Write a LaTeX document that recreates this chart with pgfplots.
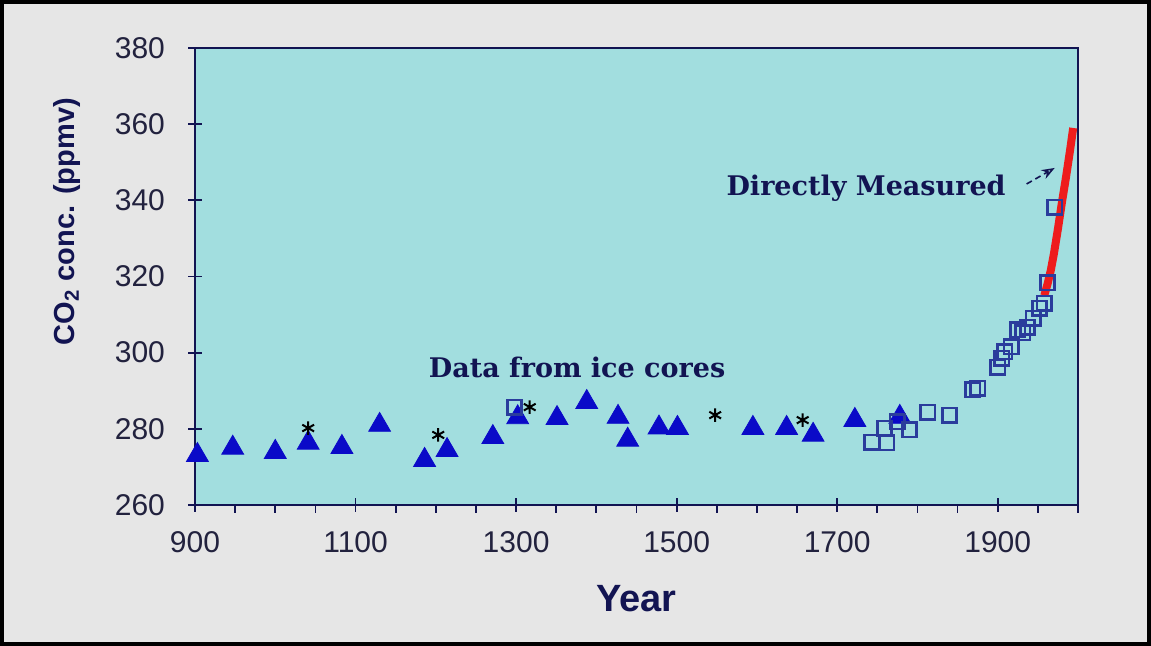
\documentclass[border=0pt]{standalone}
\usepackage{pgfplots}
\pgfplotsset{compat=1.18}
\usetikzlibrary{arrows.meta}
\usepackage{fontspec}
\setmainfont{Liberation Sans}
\newfontfamily\annfont{DejaVu Serif}
\definecolor{bgray}{HTML}{E6E6E6}
\definecolor{plotbg}{HTML}{A2DEDF}
\definecolor{navy}{HTML}{121452}
\definecolor{tickcol}{HTML}{22223E}
\definecolor{tri}{HTML}{0A0AC8}
\definecolor{sq}{HTML}{2A3C9C}
\definecolor{meas}{HTML}{EE1C1C}

\begin{document}
\begin{tikzpicture}[x=1pt,y=1pt]
\fill[bgray] (0,0) rectangle (575.5,323);
\draw[black,line width=2pt] (1,1) rectangle (574.5,322);
\useasboundingbox (0,0) rectangle (575.5,323);
\begin{axis}[
	at={(97.5pt,70.5pt)}, anchor=south west,
	scale only axis,
	width=441.5pt, height=228.5pt,
	xmin=900, xmax=2000, ymin=260, ymax=380,
	axis background/.style={fill=plotbg},
	axis line style={navy, line width=1.1pt},
	xtick={900,1100,...,1900},
	ytick={260,280,...,380},
	extra x ticks={950,1000,1050,1150,1200,1250,1350,1400,1450,1550,1600,1650,1750,1800,1850,1950,2000},
	extra x tick labels={},
	extra x tick style={major tick length=4pt, tick align=outside},
	xtick pos=left, ytick pos=left,
	tick align=center, major tick length=7pt,
	tick style={navy, line width=0.9pt},
	/pgf/number format/assume math mode=true,
	xticklabel style={/pgf/number format/1000 sep=, font=\fontsize{15}{18}\selectfont, text=tickcol, yshift=-6pt},
	yticklabel style={font=\fontsize{15}{18}\selectfont, text=tickcol, xshift=-8pt},
	xlabel={Year},
	xlabel style={font=\bfseries\fontsize{19}{22}\selectfont, text=navy, yshift=-2pt},
	ylabel={CO\textsubscript{2} conc. (ppmv)},
	ylabel style={font=\bfseries\fontsize{14.5}{17}\selectfont, text=navy,
		at={(axis description cs:-0.145,0.62)}, anchor=center, rotate=0},
	clip=false,
]
% ice core data, triangles
\addplot[only marks, mark=triangle*, mark size=6.3pt, color=tri] coordinates {
	(903,273.1) (947,275.0) (1000,273.9) (1041,276.3) (1083,275.2) (1130,281.0)
	(1186,271.8) (1214,274.4) (1271,277.8) (1302,283.0) (1351,282.8) (1388,287.0)
	(1427,283.1) (1439,277.1) (1478,280.3) (1501,280.2) (1595,280.2) (1637,280.2)
	(1670,278.4) (1722,282.3) (1778,283.1)
};
% ice core data, stars
\addplot[only marks, mark=asterisk, mark size=3.4pt, color=black, line width=1pt] coordinates {
	(1041,280.2) (1203,278.4) (1317,285.7) (1548,283.6) (1657,282.3)
};
% ice core data, squares
\addplot[only marks, mark=square, mark size=3.6pt, color=sq, line width=1.3pt] coordinates {
	(1298,285.7) (1743,276.5) (1762,276.3) (1759,280.2) (1775,281.8) (1790,279.7)
	(1813,284.4) (1840,283.6) (1869,290.2) (1875,290.7) (1900,296.2) (1905,298.5)
	(1909,300.2) (1917,301.5) (1925,306.0) (1931,305.2) (1937,306.7) (1944,309.0)
	(1952,311.7) (1958,313.0) (1962,318.3) (1971,338.2)
};
% directly measured
\addplot[meas, line width=4pt] coordinates {
	(1958,315) (1962,318) (1966,321.5) (1970,326) (1975,332.5) (1980,339.5)
	(1985,346) (1990,353) (1994,359)
};
\node[font=\annfont\bfseries\fontsize{13.5}{16}\selectfont, text=navy] at (axis cs:1376,296) {Data from ice cores};
\node[font=\annfont\bfseries\fontsize{13.5}{16}\selectfont, text=navy] at (axis cs:1736,343.2) {Directly Measured};
\draw[navy, densely dashed, line width=0.8pt, -{Stealth[open]}] (axis cs:1936,344.3) -- (axis cs:1971,348.5);
\end{axis}
\end{tikzpicture}
\end{document}
